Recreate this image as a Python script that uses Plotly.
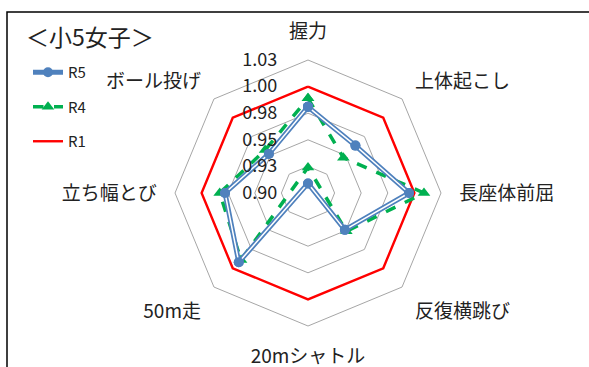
import plotly.graph_objects as go

categories = ["握力", "上体起こし", "長座体前屈", "反復横跳び", "20mシャトル", "50m走", "立ち幅とび", "ボール投げ"]
r5 = [0.981, 0.963, 0.995, 0.949, 0.891, 0.992, 0.978, 0.952]
r4 = [0.989, 0.947, 1.009, 0.951, 0.876, 0.989, 0.983, 0.957]
r1 = [1.0, 1.0, 1.0, 1.0, 1.0, 1.0, 1.0, 1.0]
tick_vals = [0.9, 0.925, 0.95, 0.975, 1.0, 1.025]
tick_text = ["0.90", "0.93", "0.95", "0.98", "1.00", "1.03"]
r_min, r_max = 0.9, 1.025

FONT = "Noto Sans CJK JP"
W, H = 589, 367
cx, cy, R = 308, 193, 133


def radar(values):
    """Excel-style radar: values below the axis minimum pass through the centre
    and appear on the opposite spoke."""
    n = len(categories)
    rr, tt = [], []
    for i, v in enumerate(values):
        if v < r_min:
            rr.append(2 * r_min - v)
            tt.append(categories[(i + n // 2) % n])
        else:
            rr.append(v)
            tt.append(categories[i])
    return rr + [rr[0]], tt + [tt[0]]


fig = go.Figure()
rr, tt = radar(r1)
fig.add_trace(go.Scatterpolar(r=rr, theta=tt, mode="lines", name="R1",
                              line=dict(color="#FF0000", width=2.4), legendgroup="c", legendrank=3))
rr, tt = radar(r4)
fig.add_trace(go.Scatterpolar(r=rr, theta=tt, mode="lines+markers", name="R4",
                              line=dict(color="#00B050", width=3.5, dash="dash"),
                              marker=dict(symbol="triangle-up", size=11, color="#00B050"),
                              legendgroup="b", legendrank=2))
rr, tt = radar(r5)
fig.add_trace(go.Scatterpolar(r=rr, theta=tt, mode="lines+markers", name="R5",
                              line=dict(color="#4F81BD", width=5),
                              marker=dict(symbol="circle", size=10, color="#4F81BD"),
                              legendgroup="a", legendrank=1))
fig.add_trace(go.Scatterpolar(r=rr, theta=tt, mode="lines", showlegend=False,
                              line=dict(color="#FFFFFF", width=1.5), legendgroup="a"))
fig.add_trace(go.Scatterpolar(r=rr, theta=tt, mode="markers", showlegend=False,
                              marker=dict(symbol="circle", size=10, color="#4F81BD"),
                              legendgroup="a"))

fig.update_layout(
    width=W, height=H,
    margin=dict(l=0, r=0, t=0, b=0),
    paper_bgcolor="white", plot_bgcolor="white",
    font=dict(family=FONT, size=16, color="#222222"),
    showlegend=True,
    legend=dict(x=28 / W, y=1 - 56 / H, xanchor="left", yanchor="top",
                font=dict(size=15, family=FONT), tracegroupgap=12,
                bgcolor="rgba(0,0,0,0)"),
    title=dict(text="＜小5女子＞", x=26 / W, xanchor="left", y=1 - 38 / H, yanchor="middle",
               xref="paper", yref="paper", font=dict(size=23, family=FONT, color="#222222")),
    polar=dict(
        domain=dict(x=[(cx - R) / W, (cx + R) / W], y=[(H - cy - R) / H, (H - cy + R) / H]),
        gridshape="linear",
        bgcolor="white",
        angularaxis=dict(rotation=90, direction="clockwise", showgrid=False,
                         categoryorder="array", categoryarray=categories,
                         linecolor="#A6A6A6", linewidth=1,
                         ticks="outside", ticklen=14, tickcolor="rgba(0,0,0,0)",
                         tickfont=dict(size=19, family=FONT, color="#222222")),
        radialaxis=dict(range=[r_min, r_max], tickvals=tick_vals, ticktext=tick_text,
                        angle=90, tickangle=90, side="counterclockwise",
                        showline=False, gridcolor="#A6A6A6", gridwidth=1,
                        ticks="outside", ticklen=24, tickcolor="rgba(0,0,0,0)",
                        tickfont=dict(size=18, family=FONT, color="#222222")),
    ),
    shapes=[dict(type="rect", xref="paper", yref="paper",
                 x0=7 / W, x1=1.2, y0=-0.2, y1=1 - 12 / H,
                 line=dict(color="black", width=1.5), fillcolor="rgba(0,0,0,0)", layer="below")],
)

fig.write_html("out.html")
